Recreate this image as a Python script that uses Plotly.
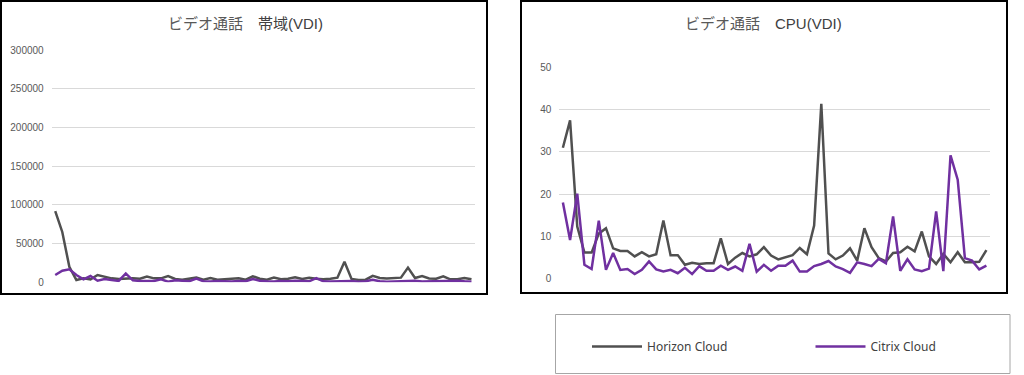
import plotly.graph_objects as go

W, H = 1024, 375

samples = list(range(1, 61))

bw_horizon = [92000, 65000, 20000, 3000, 5100, 3800, 9400, 7300, 5100, 4300,
              5100, 5100, 4700, 7300, 5100, 5100, 8100, 4300, 3400, 4500,
              6000, 3400, 5600, 3400, 3900, 4700, 5200, 3400, 7800, 4700,
              3400, 6000, 3900, 4700, 6500, 4300, 6000, 4700, 3900, 4700,
              6000, 26500, 4300, 3000, 3400, 8300, 5600, 5000, 5600, 6000,
              19000, 5600, 8000, 5000, 4700, 7800, 3900, 3900, 5600, 3900]
bw_citrix = [9400, 15000, 16700, 9400, 3800, 8100, 2100, 4300, 3000, 1700,
             11400, 2600, 1700, 1700, 1700, 3800, 850, 2600, 1700, 1300,
             4700, 1300, 1000, 1700, 1300, 1000, 1700, 1300, 4300, 2100,
             1300, 1000, 1700, 1300, 2100, 1700, 1300, 5500, 1300, 1000,
             1300, 2100, 1700, 800, 1300, 3400, 1300, 800, 1300, 1000,
             1700, 2100, 1000, 1300, 800, 1700, 1300, 2100, 1300, 800]

cpu_horizon = [31.0, 37.5, 12.3, 6.1, 6.1, 10.6, 11.9, 7.1, 6.5, 6.5,
               5.2, 6.2, 5.2, 5.7, 13.7, 5.5, 5.5, 3.2, 3.7, 3.4,
               3.6, 3.6, 9.5, 3.4, 4.9, 6.0, 5.2, 5.7, 7.4, 5.4,
               4.5, 5.0, 5.5, 7.2, 5.7, 12.5, 41.4, 5.9, 4.5, 5.4,
               7.1, 4.2, 11.9, 7.4, 4.8, 4.0, 6.0, 6.2, 7.5, 6.4,
               11.1, 5.2, 3.4, 5.8, 3.8, 6.2, 3.8, 3.8, 3.9, 6.7]
cpu_citrix = [18.0, 9.1, 20.1, 3.2, 2.2, 13.7, 2.0, 6.0, 2.0, 2.2,
              1.0, 2.0, 4.0, 2.1, 1.6, 2.0, 1.2, 2.5, 1.0, 2.9,
              1.8, 1.8, 3.0, 2.0, 2.8, 1.8, 8.2, 1.6, 3.2, 1.8,
              3.0, 3.0, 4.2, 1.6, 1.6, 2.9, 3.4, 4.1, 2.8, 2.2,
              1.3, 3.8, 3.4, 2.9, 4.6, 3.6, 14.7, 1.8, 4.5, 2.1,
              1.7, 2.3, 15.9, 1.7, 29.2, 23.4, 4.8, 4.2, 2.1, 3.0]

bw_ticks = [0, 50000, 100000, 150000, 200000, 250000, 300000]
cpu_ticks = [0, 10, 20, 30, 40, 50]

series_names = ["Horizon Cloud", "Citrix Cloud"]
series_colors = ["#505050", "#7030a0"]
series_legends = ["legend", "legend2"]

titles = ["ビデオ通話　<span style='color:#404040'>帯域(VDI)</span>",
          "ビデオ通話　<span style='color:#404040'>CPU(VDI)</span>"]


def px(x):
    return x / W


def py(y):
    return 1 - y / H


fig = go.Figure()

for name, color, lg, vals in zip(series_names, series_colors, series_legends,
                                 [bw_horizon, bw_citrix]):
    fig.add_trace(go.Scatter(x=samples, y=vals, mode="lines", name=name,
                             line=dict(color=color, width=2.5), legend=lg,
                             xaxis="x", yaxis="y", showlegend=True, hoverinfo="skip"))
for name, color, vals in zip(series_names, series_colors, [cpu_horizon, cpu_citrix]):
    fig.add_trace(go.Scatter(x=samples, y=vals, mode="lines", name=name,
                             line=dict(color=color, width=2.5),
                             xaxis="x2", yaxis="y2", showlegend=False, hoverinfo="skip"))

tickfont = dict(family="Liberation Sans, Arial, sans-serif", size=10, color="#595959")
common_x = dict(showgrid=False, showticklabels=False, zeroline=False, showline=False,
                ticks="", range=[0.5, 60.5], fixedrange=True)
common_y = dict(showgrid=True, gridcolor="#d9d9d9", gridwidth=1, zeroline=False,
                showline=False, ticks="", tickfont=tickfont, ticklabelstandoff=7,
                fixedrange=True, automargin=False)

legend_common = dict(orientation="h", xanchor="left", yanchor="middle", y=py(346.5),
                     bgcolor="rgba(0,0,0,0)", borderwidth=0, itemwidth=50,
                     font=dict(family="Noto Sans, sans-serif", size=12, color="#404040"))

fig.update_layout(
    width=W, height=H,
    margin=dict(l=0, r=0, t=0, b=0, pad=0, autoexpand=False),
    paper_bgcolor="white", plot_bgcolor="white",
    xaxis=dict(domain=[px(51.7), px(475)], anchor="y", **common_x),
    yaxis=dict(domain=[py(282.3), py(50)], anchor="x", range=[0, 300000],
               tickvals=bw_ticks, ticktext=[str(t) for t in bw_ticks], **common_y),
    xaxis2=dict(domain=[px(559.3), px(990)], anchor="y2", **common_x),
    yaxis2=dict(domain=[py(278.3), py(67.7)], anchor="x2", range=[0, 50],
                tickvals=cpu_ticks, ticktext=[str(t) for t in cpu_ticks], **common_y),
    legend=dict(x=px(587), **legend_common),
    legend2=dict(x=px(810.5), **legend_common),
    showlegend=True,
    hovermode=False,
)

shapes = [
    dict(type="rect", xref="paper", yref="paper", x0=px(1), x1=px(487), y0=py(294), y1=py(1),
         line=dict(color="black", width=2), fillcolor="rgba(0,0,0,0)", layer="above"),
    dict(type="rect", xref="paper", yref="paper", x0=px(521), x1=px(1007), y0=py(293), y1=py(1),
         line=dict(color="black", width=2), fillcolor="rgba(0,0,0,0)", layer="above"),
    dict(type="rect", xref="paper", yref="paper", x0=px(555.5), x1=px(1010), y0=py(373.5), y1=py(314.5),
         line=dict(color="#a6a6a6", width=1), fillcolor="rgba(0,0,0,0)", layer="above"),
]
fig.update_layout(shapes=shapes)

title_font = dict(family="Liberation Sans, Noto Sans CJK JP, sans-serif", size=15, color="#595959")
fig.add_annotation(text=titles[0], xref="paper", yref="paper", x=px(245), y=py(23),
                   xanchor="center", yanchor="middle", showarrow=False, font=title_font)
fig.add_annotation(text=titles[1], xref="paper", yref="paper", x=px(763), y=py(23),
                   xanchor="center", yanchor="middle", showarrow=False, font=title_font)

fig.write_html(
    "out.html",
    config={"displayModeBar": False, "staticPlot": True},
    post_script=(
        "document.documentElement.style.margin='0';"
        "document.documentElement.style.overflow='hidden';"
        "document.body.style.margin='0';document.body.style.padding='0';"
        "document.body.style.overflow='hidden';"
        "var gd=document.getElementById('{plot_id}');"
        "gd.style.position='fixed';gd.style.top='0px';gd.style.left='0px';"
    ),
)
